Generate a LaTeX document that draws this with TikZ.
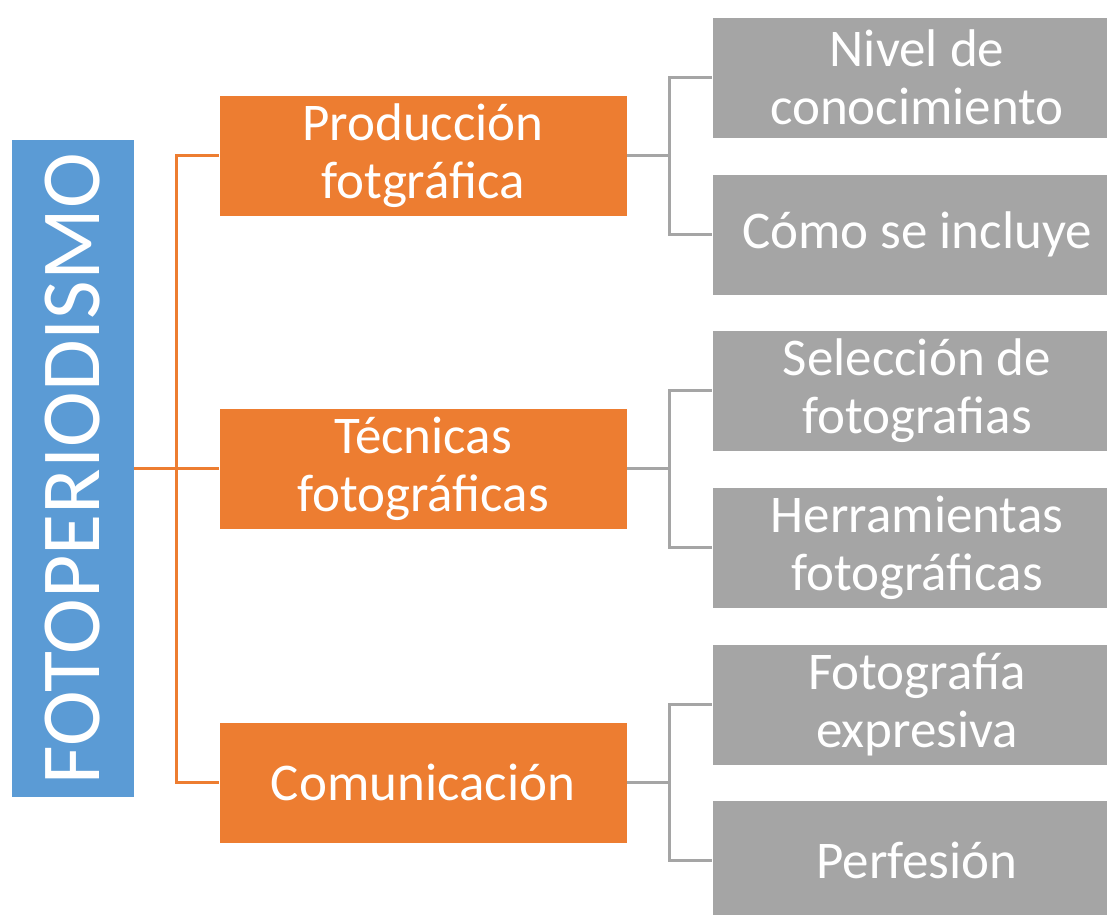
\documentclass[tikz,border=0pt]{standalone}
\usepackage{fontspec}
\setmainfont{Carlito}
\usetikzlibrary{calc}
\definecolor{cblue}{HTML}{5B9BD5}
\definecolor{corange}{HTML}{ED7D31}
\definecolor{cgray}{HTML}{A5A5A5}
\tikzset{
  rootbox/.style={rectangle, fill=cblue, draw=white, line width=0.6pt, minimum width=123pt, minimum height=658pt, inner sep=0pt, text=white, font=\fontsize{84}{90}\selectfont},
  midbox/.style={rectangle, fill=corange, draw=white, line width=0.6pt, minimum width=408pt, minimum height=121pt, inner sep=0pt, text=white, align=center, font=\fontsize{53}{58}\selectfont},
  leafbox/.style={rectangle, fill=cgray, draw=white, line width=0.6pt, minimum width=410pt, minimum height=121pt, inner sep=0pt, text=white, align=center, font=\fontsize{53}{58}\selectfont},
  oline/.style={draw=corange, line width=2.5pt},
  gline/.style={draw=cgray, line width=2.5pt}
}
\begin{document}
\begin{tikzpicture}[x=1pt,y=-1pt]
\useasboundingbox (0,0) rectangle (1107,914);
\node[rootbox] (root) at (72.5,468.5) {\rotatebox{90}{FOTOPERIODISMO}};
\node[midbox] (prod) at (423,155.5) {Producción\\fotgráfica};
\node[midbox] (tec) at (423,468.5) {Técnicas\\fotográficas};
\node[midbox] (com) at (423,782.5) {Comunicación};
\node[leafbox] (l1) at (917,77.5) {Nivel de\\conocimiento};
\node[leafbox] (l2) at (917,234.5) {Cómo se incluye};
\node[leafbox] (l3) at (917,390.5) {Selección de\\fotografias};
\node[leafbox] (l4) at (917,547.5) {Herramientas\\fotográficas};
\node[leafbox] (l5) at (917,704.5) {Fotografía\\expresiva};
\node[leafbox] (l6) at (917,860.5) {Perfesión};
\coordinate (m0) at ($(root.east)!0.5!(root.east -| tec.west)$);
\coordinate (m1) at ($(prod.east)!0.5!(prod.east -| l1.west)$);
\coordinate (m2) at ($(tec.east)!0.5!(tec.east -| l3.west)$);
\coordinate (m3) at ($(com.east)!0.5!(com.east -| l5.west)$);
\draw[oline] (root.east) -- (tec.west);
\draw[oline] (prod.west) -| (m0) |- (com.west);
\draw[gline] (prod.east) -- (m1);
\draw[gline] (l1.west) -| (m1) |- (l2.west);
\draw[gline] (tec.east) -- (m2);
\draw[gline] (l3.west) -| (m2) |- (l4.west);
\draw[gline] (com.east) -- (m3);
\draw[gline] (l5.west) -| (m3) |- (l6.west);
\end{tikzpicture}
\end{document}
